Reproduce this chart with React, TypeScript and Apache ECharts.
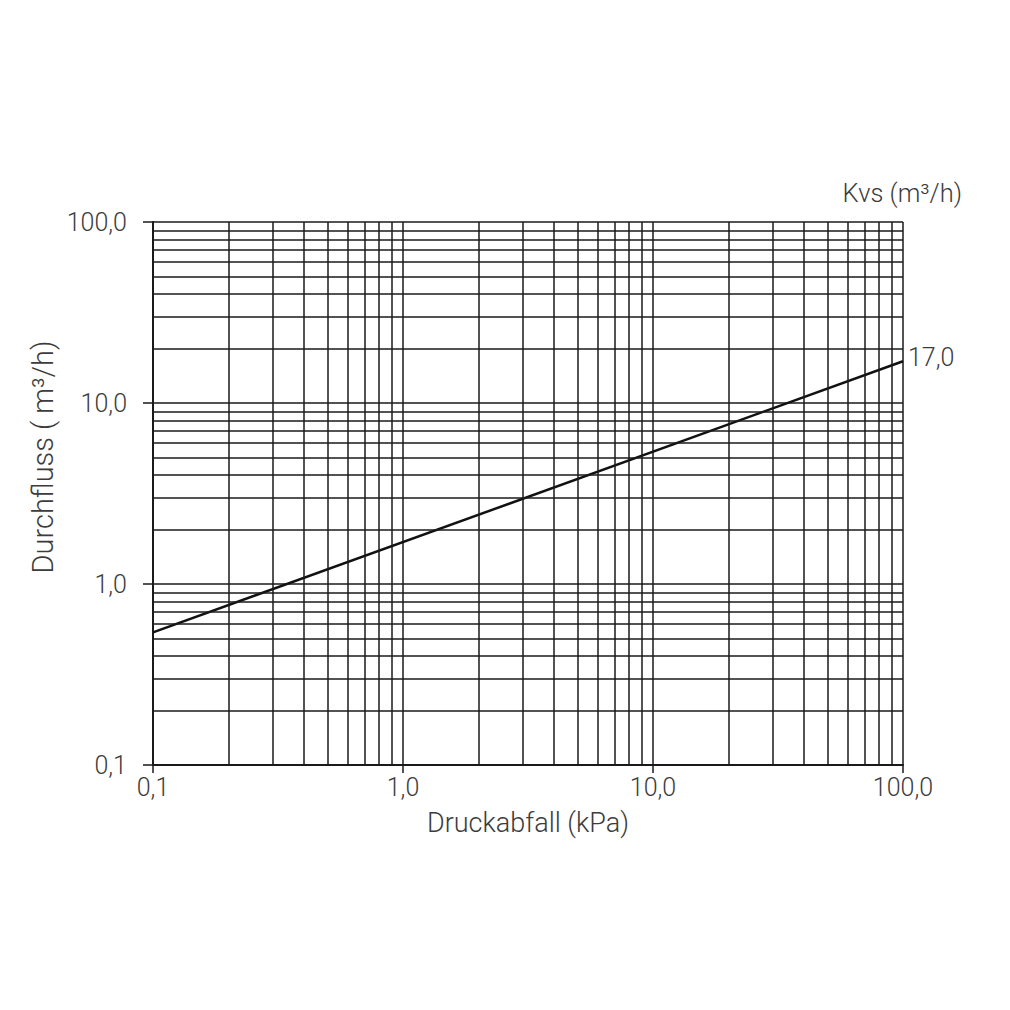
import React, { useEffect, useRef } from "react";
import * as echarts from "echarts";

const flowLine: [number, number][] = [
  [0.1, 0.54],
  [100, 17],
];
const xMinorGrid = [0.2, 0.3, 0.4, 0.5, 0.6, 0.7, 0.8, 0.9, 2, 3, 4, 5, 6, 7, 8, 9, 20, 30, 40, 50, 60, 70, 80, 90];
const yMinorGrid = [0.2, 0.3, 0.4, 0.5, 0.6, 0.7, 0.8, 0.9, 2, 3, 4, 5, 6, 7, 8, 9, 20, 30, 40, 50, 60, 70, 80, 90];
const xAxisTitle = "Druckabfall (kPa)";
const yAxisTitle = "Durchfluss ( m³/h)";
const kvsTitle = "Kvs (m³/h)";

const FONT = "Roboto, 'Noto Sans', sans-serif";
const TEXT = "#3c3c3c";
const GRID = "#1a1a1a";

const fmt = (v: number) => Number(v).toFixed(1).replace(".", ",");

export default function App() {
  const ref = useRef<HTMLDivElement>(null);
  useEffect(() => {
    const chart = echarts.init(ref.current!, null, { renderer: "svg" });
    const gridLine = { color: GRID, width: 1.5, type: "solid" as const };
    chart.setOption({
      animation: false,
      backgroundColor: "#ffffff",
      grid: { left: 153, right: 107, top: 222, bottom: 245, containLabel: false },
      xAxis: {
        type: "log",
        logBase: 10,
        min: 0.1,
        max: 100,
        splitNumber: 3,
        name: xAxisTitle,
        nameLocation: "middle",
        nameGap: 44,
        nameTextStyle: { fontFamily: FONT, fontSize: 27, fontWeight: 300, color: TEXT },
        axisLine: { show: true, lineStyle: { color: GRID, width: 2 } },
        axisTick: { show: true, length: 8, lineStyle: { color: GRID, width: 1.5 } },
        axisLabel: { formatter: (v: number) => fmt(v), margin: 10, fontFamily: FONT, fontSize: 25, fontWeight: 300, color: TEXT },
        splitLine: { show: true, lineStyle: gridLine },
      },
      yAxis: {
        type: "log",
        logBase: 10,
        min: 0.1,
        max: 100,
        splitNumber: 3,
        axisLine: { show: true, lineStyle: { color: GRID, width: 2 } },
        axisTick: { show: true, length: 10, lineStyle: { color: GRID, width: 1.5 } },
        axisLabel: { formatter: (v: number) => fmt(v), margin: 26, fontFamily: FONT, fontSize: 25, fontWeight: 300, color: TEXT },
        splitLine: { show: true, lineStyle: gridLine },
      },
      graphic: [
        {
          type: "text",
          x: 43,
          y: 457,
          rotation: Math.PI / 2,
          style: {
            text: yAxisTitle,
            fontFamily: FONT,
            fontSize: 29,
            fontWeight: 300,
            fill: TEXT,
            align: "center",
            verticalAlign: "middle",
          },
        },
        {
          type: "text",
          x: 962,
          y: 193,
          style: {
            text: kvsTitle,
            fontFamily: FONT,
            fontSize: 25.5,
            fontWeight: 300,
            fill: TEXT,
            align: "right",
            verticalAlign: "middle",
          },
        },
      ],
      series: [
        {
          type: "line",
          data: flowLine,
          symbol: "none",
          silent: true,
          lineStyle: { color: "#111111", width: 2.5 },
          endLabel: {
            show: true,
            formatter: (p: any) => fmt(p.value[1]),
            fontFamily: FONT,
            fontSize: 25,
            fontWeight: 300,
            color: TEXT,
            distance: 5,
            offset: [0, -4],
          },
          markLine: {
            silent: true,
            symbol: ["none", "none"],
            label: { show: false },
            lineStyle: gridLine,
            emphasis: { disabled: true },
            data: [
              ...xMinorGrid.map((v) => ({ xAxis: v })),
              ...yMinorGrid.map((v) => ({ yAxis: v })),
            ],
          },
        },
      ],
    });
    return () => chart.dispose();
  }, []);
  return (
    <div
      ref={ref}
      style={{ position: "fixed", left: 0, top: 0, width: 1010, height: 1010, background: "#fff" }}
    />
  );
}
